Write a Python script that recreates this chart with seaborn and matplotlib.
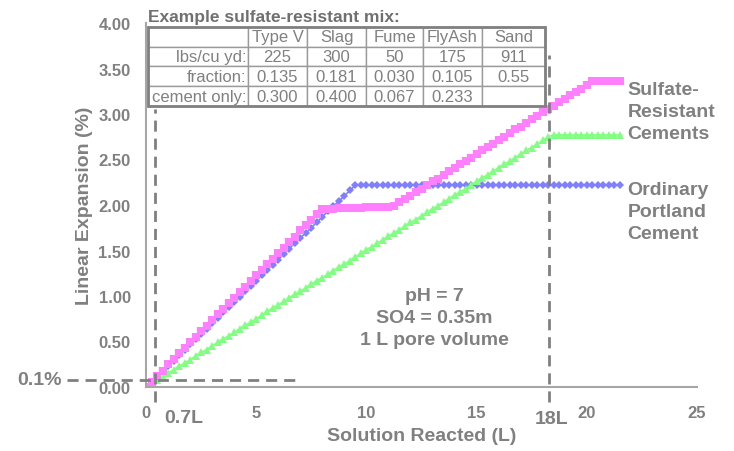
import matplotlib
matplotlib.use("Agg")
import matplotlib.pyplot as plt
import seaborn as sns
from matplotlib.patches import Rectangle

# ------------------------------- data ----------------------------------
solution_L = [
    0.00, 0.25, 0.50, 0.75, 1.00, 1.25, 1.50, 1.75, 2.00, 2.25,
    2.50, 2.75, 3.00, 3.25, 3.50, 3.75, 4.00, 4.25, 4.50, 4.75,
    5.00, 5.25, 5.50, 5.75, 6.00, 6.25, 6.50, 6.75, 7.00, 7.25,
    7.50, 7.75, 8.00, 8.25, 8.50, 8.75, 9.00, 9.25, 9.50, 9.75,
    10.00, 10.25, 10.50, 10.75, 11.00, 11.25, 11.50, 11.75, 12.00, 12.25,
    12.50, 12.75, 13.00, 13.25, 13.50, 13.75, 14.00, 14.25, 14.50, 14.75,
    15.00, 15.25, 15.50, 15.75, 16.00, 16.25, 16.50, 16.75, 17.00, 17.25,
    17.50, 17.75, 18.00, 18.25, 18.50, 18.75, 19.00, 19.25, 19.50, 19.75,
    20.00, 20.25, 20.50, 20.75, 21.00, 21.25, 21.50,
]

ordinary_portland = [
    0.00, 0.06, 0.12, 0.18, 0.23, 0.29, 0.35, 0.41, 0.47, 0.53,
    0.58, 0.64, 0.70, 0.76, 0.82, 0.88, 0.93, 0.99, 1.05, 1.11,
    1.17, 1.23, 1.29, 1.34, 1.40, 1.46, 1.52, 1.58, 1.64, 1.69,
    1.75, 1.81, 1.87, 1.93, 1.99, 2.04, 2.10, 2.16, 2.22, 2.22,
    2.22, 2.22, 2.22, 2.22, 2.22, 2.22, 2.22, 2.22, 2.22, 2.22,
    2.22, 2.22, 2.22, 2.22, 2.22, 2.22, 2.22, 2.22, 2.22, 2.22,
    2.22, 2.22, 2.22, 2.22, 2.22, 2.22, 2.22, 2.22, 2.22, 2.22,
    2.22, 2.22, 2.22, 2.22, 2.22, 2.22, 2.22, 2.22, 2.22, 2.22,
    2.22, 2.22, 2.22, 2.22, 2.22, 2.22, 2.22,
]

sulfate_resistant_mix = [
    0.00, 0.06, 0.12, 0.18, 0.25, 0.31, 0.37, 0.43, 0.49, 0.55,
    0.61, 0.67, 0.74, 0.80, 0.86, 0.92, 0.98, 1.04, 1.10, 1.16,
    1.23, 1.29, 1.35, 1.41, 1.47, 1.53, 1.59, 1.65, 1.72, 1.78,
    1.84, 1.90, 1.96, 1.96, 1.96, 1.97, 1.97, 1.97, 1.97, 1.97,
    1.98, 1.98, 1.98, 1.98, 1.98, 1.99, 2.03, 2.07, 2.10, 2.14,
    2.18, 2.22, 2.26, 2.29, 2.33, 2.37, 2.41, 2.45, 2.48, 2.52,
    2.56, 2.60, 2.64, 2.67, 2.71, 2.75, 2.79, 2.83, 2.86, 2.90,
    2.94, 2.98, 3.02, 3.05, 3.09, 3.13, 3.17, 3.21, 3.24, 3.28,
    3.32, 3.36, 3.36, 3.36, 3.36, 3.36, 3.36,
]

sulfate_resistant_alt = [
    0.00, 0.04, 0.08, 0.11, 0.15, 0.19, 0.23, 0.26, 0.30, 0.34,
    0.38, 0.41, 0.45, 0.49, 0.53, 0.56, 0.60, 0.64, 0.68, 0.71,
    0.75, 0.79, 0.83, 0.87, 0.90, 0.94, 0.98, 1.02, 1.05, 1.09,
    1.13, 1.17, 1.20, 1.24, 1.28, 1.32, 1.35, 1.39, 1.43, 1.47,
    1.51, 1.54, 1.58, 1.62, 1.66, 1.69, 1.73, 1.77, 1.81, 1.84,
    1.88, 1.92, 1.96, 1.99, 2.03, 2.07, 2.11, 2.14, 2.18, 2.22,
    2.26, 2.30, 2.33, 2.37, 2.41, 2.45, 2.48, 2.52, 2.56, 2.60,
    2.63, 2.67, 2.71, 2.75, 2.77, 2.77, 2.77, 2.77, 2.77, 2.77,
    2.77, 2.77, 2.77, 2.77, 2.77, 2.77, 2.77,
]

x_ticks = [0, 5, 10, 15, 20, 25]
y_ticks = [0.0, 0.5, 1.0, 1.5, 2.0, 2.5, 3.0, 3.5, 4.0]

# mix table
table_columns = ["", "Type V", "Slag", "Fume", "FlyAsh", "Sand"]
table_rows = [
    ["lbs/cu yd:", "225", "300", "50", "175", "911"],
    ["fraction:", "0.135", "0.181", "0.030", "0.105", "0.55"],
    ["cement only:", "0.300", "0.400", "0.067", "0.233", ""],
]

# ----------------------------- style -----------------------------------
GRAY = "#808080"
SPINE = "#A6A6A6"
BLUE = "#7F7FFF"
PINK = "#FF7FFF"
GREEN = "#80FF80"

sns.set_style("white")
plt.rcParams["font.family"] = ["Liberation Sans", "DejaVu Sans"]

fig = plt.figure(figsize=(7.34, 4.52), dpi=100)
ax = fig.add_axes([146 / 734, 1 - 388 / 452, 551 / 734, 364 / 452])

# ----------------------------- series ----------------------------------
sns.lineplot(x=solution_L, y=ordinary_portland, ax=ax, color=BLUE,
             marker="D", markersize=4, markeredgewidth=0, linewidth=1.2)
sns.lineplot(x=solution_L, y=sulfate_resistant_alt, ax=ax, color=GREEN,
             marker="^", markersize=6, markeredgewidth=0, linewidth=1.2)
sns.lineplot(x=solution_L, y=sulfate_resistant_mix, ax=ax, color=PINK,
             marker="s", markersize=5.2, markeredgewidth=0, linewidth=1.5)

ax.set_xlim(0, 25)
ax.set_ylim(0, 4)
tick_font = dict(fontsize=12, fontweight="bold", color=GRAY)
ax.set_xticks(x_ticks, [str(v) for v in x_ticks], **tick_font)
ax.set_yticks(y_ticks, [f"{v:.2f}" for v in y_ticks], **tick_font)

for side in ["top", "right"]:
    ax.spines[side].set_visible(False)
for side in ["left", "bottom"]:
    ax.spines[side].set_color(SPINE)
    ax.spines[side].set_linewidth(1.5)
ax.tick_params(axis="both", color=SPINE, width=1.2, length=5, direction="out")
ax.tick_params(axis="x", pad=8)
ax.tick_params(axis="y", pad=6)

ax.set_xlabel("Solution Reacted (L)", fontsize=14, fontweight="bold", color=GRAY, labelpad=5)
ax.set_ylabel("Linear Expansion (%)", fontsize=14, fontweight="bold", color=GRAY, labelpad=4)

# ----------------------------- guides ----------------------------------
dash = dict(color=GRAY, linewidth=2, linestyle=(0, (4, 2.5)), clip_on=False, zorder=5)
ax.plot([0.4, 0.4], [-0.17, 3.05], **dash)
ax.plot([18.3, 18.3], [-0.17, 3.65], **dash)
ax.plot([-3.6, 6.85], [0.08, 0.08], **dash)

bold = dict(fontsize=14, fontweight="bold", color=GRAY)
ax.text(-3.8, 0.08, "0.1%", ha="right", va="center", clip_on=False, **bold)
ax.text(0.85, -0.33, "0.7L", ha="left", va="center", clip_on=False, **bold)
ax.text(18.4, -0.35, "18L", ha="center", va="center", clip_on=False, **bold)
ax.text(13.07, 0.76, "pH = 7\nSO4 = 0.35m\n1 L pore volume", ha="center", va="center",
        linespacing=1.38, **bold)
ax.text(21.85, 3.03, "Sulfate-\nResistant\nCements", ha="left", va="center",
        linespacing=1.38, **bold)
ax.text(21.85, 1.93, "Ordinary\nPortland\nCement", ha="left", va="center",
        linespacing=1.38, **bold)

# ----------------------------- table -----------------------------------
ax.text(0.004, 0.998, "Example sulfate-resistant mix:", transform=ax.transAxes,
        ha="left", va="bottom", fontsize=12.5, fontweight="bold", color="#707070")

tbl_box = [0.004, 0.772, 0.72, 0.217]
col_w = [100, 59, 59, 57, 59, 63]
tbl = ax.table(cellText=[table_columns] + table_rows, colWidths=col_w,
               bbox=tbl_box, cellLoc="center", zorder=6)
tbl.auto_set_font_size(False)
for (r, c), cell in tbl.get_celld().items():
    cell.set_edgecolor("#9A9A9A")
    cell.set_linewidth(1)
    cell.set_facecolor("white")
    txt = cell.get_text()
    txt.set_fontsize(12)
    txt.set_color(GRAY)
    if c == 0:
        cell.set_text_props(ha="right")
        cell.PAD = 0.02
ax.add_patch(Rectangle((tbl_box[0], tbl_box[1]), tbl_box[2], tbl_box[3],
                       transform=ax.transAxes, fill=False, edgecolor=GRAY,
                       linewidth=2, zorder=7, clip_on=False))

fig.savefig("out.png", dpi=100)
